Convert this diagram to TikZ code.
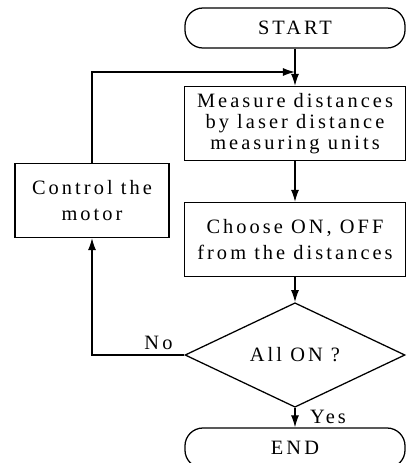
\documentclass[tikz,border=0pt]{standalone}
\usepackage{fontspec}
\setmainfont{Liberation Serif}[LetterSpace=15]
\usetikzlibrary{shapes.geometric, arrows.meta, positioning}

\begin{document}
\begin{tikzpicture}[x=0.025cm, y=-0.025cm,
    box/.style={draw, line width=0.9pt, align=center, minimum width=5.525cm, minimum height=1.85cm},
    terminal/.style={draw, line width=0.9pt, rounded corners=0.45cm, minimum width=5.5cm, minimum height=1cm},
    decision/.style={draw, diamond, line width=0.9pt, minimum width=5.5cm, minimum height=1.875cm, inner sep=0pt},
    flow/.style={line width=0.9pt, -{Latex[length=3mm, width=2mm]}},
    font=\fontsize{14.5}{15}\selectfont]

\useasboundingbox (0, 0) rectangle (408, 463);

% main column
\node[terminal] (start) at (295, 28) {START};
\node[box] (measure) at (295, 123.5) {Measure distances\\by laser distance\\measuring units};
\node[box] (choose) at (295, 239.5) {Choose ON, OFF\\[3.5pt]from the distances};
\node[decision] (check) at (295, 355) {All ON ?};
\node[terminal] (finish) at (295, 448) {END};

% feedback branch
\node[box, minimum width=3.85cm] (control) at (92, 200.5) {Control the\\[3.5pt]motor};
\coordinate (merge) at (295, 72);

% connect the column
\draw[flow] (start) -- (measure);
\draw[flow] (measure) -- (choose);
\draw[flow] (choose) -- (check);
\draw[flow] (check) -- (finish) node[pos=0.45, right, xshift=7pt] {Yes};

% loop back through the motor
\draw[flow] (check.west) -| (control.south) node[pos=0.14, above] {No};
\draw[flow] (control.north) |- (merge);

\end{tikzpicture}
\end{document}
